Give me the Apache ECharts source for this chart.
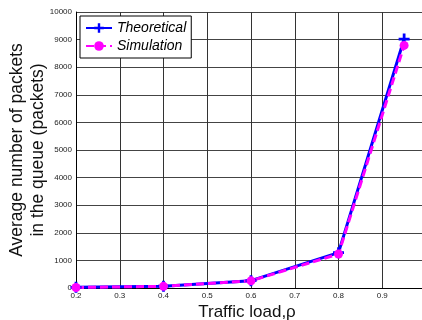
<!DOCTYPE html>
<html><head><meta charset="utf-8">
<script src="https://cdn.jsdelivr.net/npm/echarts@6/dist/echarts.min.js"></script>
<style>html,body{margin:0;padding:0;background:#fff}#c{width:422px;height:320px}</style>
</head><body><div id="c"></div>
<script>
var loads = [0.2, 0.4, 0.6, 0.8, 0.95];
var theoretical = [25, 67, 267, 1280, 9020];
var simulation = [18, 60, 260, 1230, 8790];
var yTicks = [0, 1000, 2000, 3000, 4000, 5000, 6000, 7000, 8000, 9000, 10000];
var xTicks = [0.2, 0.3, 0.4, 0.5, 0.6, 0.7, 0.8, 0.9, 1.0];

var plus = 'path://M3,0h2v3h3v2h-3v3h-2v-3h-3v-2h3z';
var chart = echarts.init(document.getElementById('c'));
chart.setOption({
  animation: false,
  backgroundColor: '#fff',
  textStyle: {fontFamily: 'Liberation Sans, Arial, sans-serif'},
  grid: {left: 76, top: 12, width: 350, height: 276, containLabel: false, outerBoundsMode: 'none'},
  legend: {
    left: 80, top: 16, orient: 'vertical', itemGap: 4,
    itemWidth: 26, itemHeight: 12,
    padding: [5, 5, 5, 5],
    borderColor: '#000', borderWidth: 1, backgroundColor: '#fff',
    textStyle: {fontSize: 14, fontStyle: 'italic', color: '#000', lineHeight: 14},
    data: ['Theoretical', 'Simulation']
  },
  xAxis: {
    type: 'value', min: 0.2, max: 1.0, interval: 0.1,
    name: 'Traffic load,\u03c1', nameLocation: 'middle', nameGap: 16, nameMoveOverlap: false,
    nameTextStyle: {fontSize: 17, color: '#111', padding: [0, 8, 0, 0]},
    axisLine: {show: true, lineStyle: {color: '#000', width: 1}},
    axisTick: {show: false},
    axisLabel: {fontSize: 8, color: '#222', margin: 4,
      formatter: function (v) { return v >= 0.999 ? '' : v.toFixed(1); }},
    splitLine: {show: true, lineStyle: {color: '#333', width: 1}}
  },
  yAxis: {
    type: 'value', min: 0, max: 10000, interval: 1000,
    name: 'Average number of packets\nin the queue (packets)', nameLocation: 'middle', nameGap: 27, nameMoveOverlap: false,
    nameTextStyle: {fontSize: 17.5, color: '#111', lineHeight: 21},
    axisLine: {show: true, lineStyle: {color: '#000', width: 1}},
    axisTick: {show: false},
    axisLabel: {fontSize: 8, color: '#222', margin: 4,
      formatter: function (v) { return String(v); }},
    splitLine: {show: true, lineStyle: {color: '#444', width: 1}}
  },
  series: [
    {
      name: 'Theoretical', type: 'line',
      data: loads.map(function (x, i) { return [x, theoretical[i]]; }),
      lineStyle: {color: '#0000ff', width: 3},
      itemStyle: {color: '#0000ff'},
      symbol: plus, symbolSize: 11, showAllSymbol: true
    },
    {
      name: 'Simulation', type: 'line',
      data: loads.map(function (x, i) { return [x, simulation[i]]; }),
      lineStyle: {color: '#ff00ff', width: 3, type: [8, 4]},
      itemStyle: {color: '#ff00ff'},
      symbol: 'circle', symbolSize: 9, showAllSymbol: true
    }
  ]
});
</script></body></html>
